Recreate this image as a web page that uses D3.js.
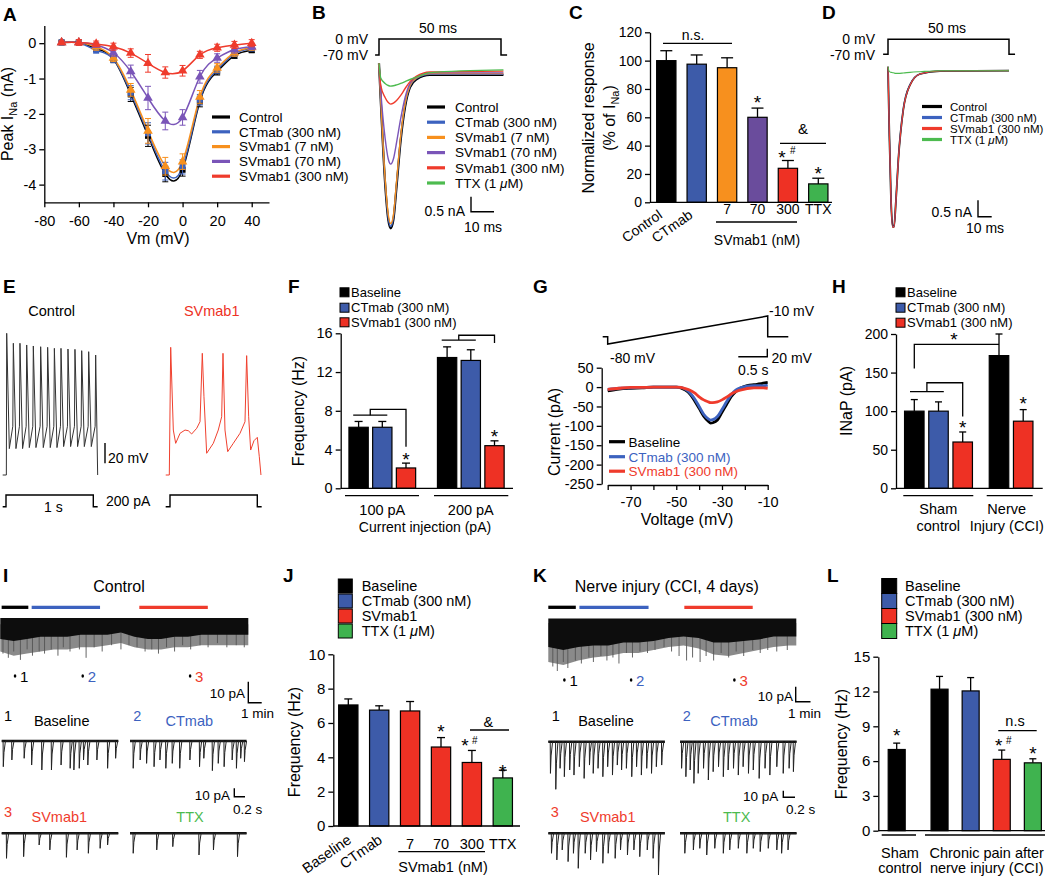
<!DOCTYPE html>
<html><head><meta charset="utf-8">
<script src="https://cdn.jsdelivr.net/npm/d3@7/dist/d3.min.js"></script>
<style>html,body{margin:0;padding:0;background:#fff}</style>
</head><body>
<svg id="chart" width="1050" height="877" xmlns="http://www.w3.org/2000/svg"></svg>
<script>
// ======================= DATA =======================
// Panel A: I-V curves
const A_vm = [-70,-60,-50,-40,-30,-20,-10,0,10,20,30,40];
const A_labels = ["Control","CTmab (300 nM)","SVmab1 (7 nM)","SVmab1 (70 nM)","SVmab1 (300 nM)"];
const A_control = [0.02,0.02,-0.15,-0.45,-1.45,-2.62,-3.7,-3.58,-1.65,-0.8,-0.35,-0.2];
const A_control_err = [0.04,0.04,0.08,0.1,0.2,0.3,0.22,0.18,0.15,0.1,0.08,0.06];
const A_ctmab = [0.02,0.02,-0.2,-0.45,-1.4,-2.55,-3.62,-3.5,-1.6,-0.75,-0.3,-0.15];
const A_ctmab_err = [0.04,0.04,0.08,0.1,0.2,0.3,0.25,0.2,0.15,0.1,0.08,0.06];
const A_sv7 = [0.02,0.02,-0.1,-0.42,-1.32,-2.48,-3.48,-3.35,-1.52,-0.7,-0.27,-0.12];
const A_sv7_err = [0.04,0.05,0.1,0.1,0.18,0.35,0.25,0.22,0.18,0.12,0.1,0.08];
const A_sv70 = [0.02,0.02,-0.05,-0.27,-0.8,-1.55,-2.2,-2.1,-0.95,-0.42,-0.18,-0.1];
const A_sv70_err = [0.04,0.04,0.06,0.1,0.18,0.33,0.25,0.22,0.18,0.12,0.1,0.08];
const A_sv300 = [0.02,0.02,-0.02,-0.1,-0.28,-0.57,-0.83,-0.78,-0.33,-0.13,-0.05,0.0];
const A_sv300_err = [0.04,0.08,0.08,0.1,0.12,0.25,0.16,0.15,0.1,0.1,0.1,0.1];
const A_xticks = [-80,-60,-40,-20,0,20,40];
const A_yticks = [0,-1,-2,-3,-4];

// Panel B: current traces (ms, nA)
const B_labels = ["Control","CTmab (300 nM)","SVmab1 (7 nM)","SVmab1 (70 nM)","SVmab1 (300 nM)","TTX (1 μM)"];
const B_time = [0,0.7,2.5,3.8,4.8,5.9,7.2,8.9,10.7,12.7,15.4,20.9,51];
const B_control = [0.29,-0.93,-3.71,-4.93,-5.21,-4.93,-3.82,-2.27,-1.16,-0.51,-0.24,-0.10,-0.10];
const B_ctmab = [0.29,-0.9,-3.65,-4.88,-5.15,-4.88,-3.75,-2.2,-1.1,-0.48,-0.21,-0.08,-0.08];
const B_sv7 = [0.29,-0.88,-3.55,-4.75,-5.05,-4.78,-3.65,-2.12,-1.05,-0.45,-0.19,-0.05,-0.05];
const B_sv70 = [0.29,-0.6,-2.2,-2.9,-3.07,-2.9,-2.35,-1.55,-0.85,-0.38,-0.16,-0.03,-0.03];
const B_sv300 = [0.29,-0.45,-0.85,-1.02,-1.07,-1.04,-0.95,-0.78,-0.55,-0.32,-0.14,0.0,0.03];
const B_ttx = [0.29,-0.2,-0.38,-0.45,-0.47,-0.46,-0.43,-0.38,-0.32,-0.25,-0.17,-0.02,0.07];
const B_protocol_t = [-1.6,0,0,50,50,52.5];
const B_protocol_mV = [-70,-70,0,0,-70,-70];

// Panel C
const C_cats = ["Control","CTmab","7","70","300","TTX"];
const C_vals = [100,97.5,95,60,24,13];
const C_err = [7,6.5,7,6.5,5.5,4];
const C_yticks = [0,20,40,60,80,100,120];

// Panel D
const D_labels = ["Control","CTmab (300 nM)","SVmab1 (300 nM)","TTX (1 μM)"];
const D_time = [0,0.55,1.24,1.93,2.48,3.3,4.27,6.3,9.1,13.2,21.5,50];
const D_control = [0.12,-1.9,-3.92,-4.73,-4.73,-3.92,-2.7,-1.19,-0.43,-0.1,-0.01,0];
const D_ctmab = [0.12,-1.88,-3.9,-4.72,-4.72,-3.9,-2.68,-1.17,-0.42,-0.1,-0.01,0];
const D_sv300 = [0.12,-1.89,-3.91,-4.74,-4.74,-3.93,-2.71,-1.2,-0.44,-0.1,-0.01,0];
const D_ttx = [0.12,-0.03,-0.05,-0.06,-0.07,-0.08,-0.08,-0.07,-0.05,-0.03,0,0];

// Panel E: action potentials (s, mV)
const E_ctrl_spike_t = [0.008,0.084,0.160,0.237,0.313,0.397,0.477,0.554,0.630,0.710,0.790,0.867,0.947,1.027];
const E_ctrl_peak = [79.6,69.8,69.8,68.1,67.1,66.4,65.8,64.8,64.8,64.1,63.8,62.5,61.5,58.2];
const E_ctrl_trough = [-34,-34,-34,-33,-33,-33,-33,-33,-32,-32,-32,-32,-32,-32];
const E_ctrl_thresh = -12;
const E_rest = -60;
const E_sv_t = [-0.049,-0.008,0.008,0.038,0.065,0.115,0.172,0.210,0.248,0.306,0.344,0.370,0.389,0.420,0.496,0.553,0.592,0.607,0.630,0.661,0.725,0.802,0.859,0.878,0.901,0.924,0.962,1.000,1.023,1.042];
const E_sv_mV = [-60,-60,65.8,-15.7,-28.8,-18.9,-15.7,-16.4,-19.6,-14,-7.5,59.9,17.1,-38.6,-28.8,-15.7,-2.6,59.9,-15.7,-37,-28.8,-18.9,-7.5,57.6,-2.6,-35.4,-26.2,-22.9,-42,-60];
const E_step_t = [-0.038,0,0,1.0,1.0,1.05];
const E_step_pA = [0,0,200,200,0,0];

// Panel F
const F_groups = ["100 pA","200 pA"];
const F_series = ["Baseline","CTmab (300 nM)","SVmab1 (300 nM)"];
const F_vals = [[6.3,6.3,2.1],[13.5,13.2,4.4]];
const F_err = [[0.6,0.6,0.5],[1.1,1.1,0.5]];
const F_yticks = [0,4,8,12,16];

// Panel G: ramp currents (mV, pA)
const G_labels = ["Baseline","CTmab (300 nM)","SVmab1 (300 nM)"];
const G_v = [-80,-75,-70,-65,-60,-55,-50,-48,-46,-44,-42,-40,-38,-36,-35,-34,-32,-30,-28,-26,-24,-22,-20,-18,-16,-14,-12,-10];
const G_base = [-10,-5,-3,-2,0,0,0,-2,-8,-18,-35,-55,-75,-88,-93,-92,-85,-65,-45,-25,-12,-3,2,5,6,8,10,12];
const G_ct = [-6,-3,-2,-1,0,0,0,-1,-6,-15,-30,-50,-70,-82,-85,-84,-76,-58,-38,-20,-8,-2,1,3,4,4,3,5];
const G_sv = [-6,-3,-1,-1,0,0,0,-1,-4,-8,-15,-25,-33,-38,-40,-40,-38,-33,-26,-18,-12,-8,-5,-3,-2,-2,-2,-3];
const G_yticks = [50,0,-50,-100,-150,-200,-250];
const G_xticks = [-80,-70,-60,-50,-40,-30,-20,-10];
const G_xlabels = [-70,-50,-30,-10];
const G_prot_t = [0,0.086,0.086,2.845,2.845,3.2];
const G_prot_mV = [-62,-62,-80,-10,-62,-62];

// Panel H
const H_series = ["Baseline","CTmab (300 nM)","SVmab1 (300 nM)"];
const H_groups = ["Sham","Nerve"];
const H_bar_group = [0,0,0,1,1];
const H_bar_series = [0,1,2,0,2];
const H_vals = [100,100,60,172,87];
const H_err = [15,12,13,28,15];
const H_yticks = [0,50,100,150,200];

// Panel I: spontaneous EPSC recordings (control)
const I_band_t = [0,1,2,3,4,5,6,7,8,9,10,11,12,13,14,15,16,17,18,18.5];
const I_band_low = [-9,-10,-9,-8,-8,-8,-7,-7,-7,-6,-8,-9,-9,-8,-8,-7,-7,-7,-7,-7];
const I_fringe_low = [-15,-17,-16,-15,-14,-14,-13,-13,-12,-11,-13,-14,-14,-13,-13,-12,-12,-12,-12,-12];
const I_spike_t = [0.2,0.6,1.0,1.5,2.0,2.4,2.9,3.3,3.8,4.3,4.7,5.2,5.9,6.4,7.0,7.6,8.3,9.0,9.6,10.2,10.8,11.3,11.8,12.4,13.0,13.6,14.2,14.9,15.5,16.2,16.9,17.6,18.2];
const I_spike_a = [-16,-18,-15,-19,-14,-17,-15,-16,-14,-17,-13,-15,-14,-18,-13,-15,-12,-14,-12,-13,-15,-14,-16,-13,-15,-12,-14,-12,-13,-11,-13,-12,-13];
const I_segments = [[0.1,2.09],[2.34,7.44],[10.37,15.48]];
const I_marks = [1.1,6.15,14.16];
const I_s1_t = [0.03,0.19,0.42,0.56,0.75,0.93,1.11,1.28,1.35,1.45,1.53,1.61,1.78,1.98,2.13];
const I_s1_a = [-30.6,-22.6,-20.6,-28.6,-34.5,-34.5,-28.6,-32.5,-34.5,-32.5,-22.6,-28.6,-22.6,-32.5,-20.6];
const I_s2_t = [0.06,0.19,0.31,0.45,0.56,0.67,0.79,0.93,1.12,1.30,1.38,1.54,1.65,1.76,1.91,1.99,2.07,2.14];
const I_s2_a = [-32.5,-22.6,-26.6,-30.6,-22.6,-32.5,-26.6,-32.5,-22.6,-30.6,-20.6,-35.3,-26.6,-30.6,-22.6,-32.5,-20.6,-24.6];
const I_s3_t = [0.09,0.41,0.70,0.90,1.21,1.41,1.62,1.84,1.98];
const I_s3_a = [-29.8,-27.8,-13.9,-19.8,-28.6,-19.8,-23.8,-17.9,-13.9];
const I_s4_t = [0.06,0.50,0.80,1.29,1.56,2.01];
const I_s4_a = [-23.8,-19.8,-15.9,-25.8,-19.8,-27.8];

// Panel J
const J_cats = ["Baseline","CTmab","7","70","300","TTX"];
const J_vals = [7.05,6.75,6.7,4.6,3.7,2.8];
const J_err = [0.35,0.25,0.55,0.55,0.7,0.45];
const J_legend = ["Baseline","CTmab (300 nM)","SVmab1","TTX (1 μM)"];
const J_yticks = [0,2,4,6,8,10];

// Panel K: spontaneous EPSC recordings (nerve injury)
const K_band_t = [0,1,2,3,4,5,6,7,8,9,10,11,12,13,14,15,16,16.5];
const K_band_low = [-18,-20,-18,-17,-17,-15,-15,-14,-12,-11,-12,-15,-15,-14,-13,-11,-11,-11];
const K_fringe_low = [-28,-30,-27,-25,-24,-22,-22,-20,-18,-17,-19,-23,-24,-22,-20,-18,-17,-17];
const K_spike_t = [0.3,0.6,1.0,1.3,1.8,2.2,2.7,3.0,3.5,3.9,4.3,4.7,5.2,5.6,6.1,6.6,7.1,7.7,8.2,8.7,9.2,9.6,10.1,10.5,11.0,11.5,12.0,12.5,13.0,13.6,14.1,14.6,15.2,15.9];
const K_spike_a = [-31,-34,-28,-32,-27,-29,-25,-28,-24,-27,-25,-29,-22,-25,-21,-22,-20,-18,-21,-24,-27,-25,-28,-24,-27,-22,-25,-21,-24,-20,-22,-20,-21,-20];
const K_segments = [[0,1.83],[2.07,6.67],[9.05,13.6]];
const K_marks = [1.07,5.51,12.38];
const K_s1_t = [0.04,0.14,0.22,0.30,0.40,0.48,0.58,0.67,0.77,0.84,0.93,1.02,1.11,1.20,1.29,1.37,1.46,1.56,1.65,1.74,1.84,1.93,2.02,2.12];
const K_s1_a = [-37.7,-56.7,-31.7,-41.7,-33.7,-39.7,-29.8,-43.7,-27.8,-37.7,-31.7,-41.7,-29.8,-39.7,-27.8,-33.7,-31.7,-41.7,-29.8,-39.7,-31.7,-37.7,-29.8,-27.8];
const K_s2_t = [0.03,0.11,0.19,0.26,0.34,0.44,0.53,0.62,0.72,0.81,0.90,1.00,1.09,1.18,1.28,1.37,1.48,1.59,1.68,1.81,1.93,2.04,2.12];
const K_s2_a = [-31.7,-41.7,-33.7,-49.6,-37.7,-31.7,-45.6,-35.7,-29.8,-41.7,-33.7,-31.7,-39.7,-29.8,-37.7,-33.7,-43.7,-31.7,-39.7,-29.8,-37.7,-31.7,-35.7];
const K_s3_t = [0.06,0.16,0.26,0.37,0.47,0.56,0.69,0.79,0.90,1.02,1.12,1.25,1.35,1.48,1.60,1.71,1.85,1.96,2.06];
const K_s3_a = [-23.8,-31.7,-19.8,-33.7,-23.8,-41.7,-23.8,-31.7,-21.8,-35.7,-23.8,-29.8,-19.8,-25.8,-19.8,-27.8,-19.8,-29.8,-49.6];
const K_s4_t = [0.09,0.25,0.37,0.50,0.65,0.81,0.93,1.09,1.25,1.37,1.50,1.65,1.81,1.90,2.02];
const K_s4_a = [-23.8,-19.8,-17.9,-25.8,-17.9,-23.8,-19.8,-17.9,-23.8,-17.9,-21.8,-17.9,-19.8,-23.8,-19.8];

// Panel L
const L_legend = ["Baseline","CTmab (300 nM)","SVmab1 (300 nM)","TTX (1 μM)"];
const L_bar_group = [0,1,1,1,1];
const L_vals = [7.0,12.2,12.05,6.15,5.85];
const L_err = [0.55,1.1,1.15,0.8,0.35];
const L_yticks = [0,3,6,9,12,15];

// ======================= DRAWING =======================
const svg = d3.select("#chart");
const FONT = '"Liberation Sans", Arial, Helvetica, sans-serif';
svg.attr("font-family", FONT);
const COL = {black:"#000000", blue:"#3d5ba9", orange:"#f7901e", purple:"#6a4c9c", red:"#ee3124", green:"#3fb34f"};
const LC = {black:"#000000", blue:"#3c62bf", orange:"#f7901e", purple:"#7a55b8", red:"#ef3b2c", green:"#4dbb4f"};

function T(x, y, s, o = {}) {
  const t = svg.append("text").attr("x", x).attr("y", y)
    .attr("font-size", o.size || 14).attr("fill", o.fill || "#000")
    .attr("text-anchor", o.anchor || "start");
  if (o.weight) t.attr("font-weight", o.weight);
  if (o.rot != null) t.attr("transform", `rotate(${o.rot},${x},${y})`);
  const parts = String(s).split("μ");
  parts.forEach((p, i) => {
    if (i > 0) t.append("tspan").attr("font-style", "italic").text("μ");
    if (p) t.append("tspan").text(p);
  });
  return t;
}
function L(x1, y1, x2, y2, o = {}) {
  return svg.append("line").attr("x1", x1).attr("y1", y1).attr("x2", x2).attr("y2", y2)
    .attr("stroke", o.stroke || "#000").attr("stroke-width", o.w || 1.3);
}
function P(pts, o = {}) {
  return svg.append("path").attr("d", d3.line()(pts)).attr("fill", "none")
    .attr("stroke", o.stroke || "#000").attr("stroke-width", o.w || 1.3);
}
function letter(x, y, s) { T(x, y, s, {size: 19, weight: "bold"}); }
function fmtAxis(g, fs) {
  g.attr("font-family", FONT).attr("font-size", fs || 14);
  g.selectAll(".domain").attr("stroke", "#000").attr("stroke-width", 1.3);
  g.selectAll(".tick line").attr("stroke", "#000").attr("stroke-width", 1.3);
  g.selectAll(".tick text").attr("fill", "#000");
}
function yAxis(x, scale, ticks, fs) {
  const g = svg.append("g").attr("transform", `translate(${x},0)`)
    .call(d3.axisLeft(scale).tickValues(ticks).tickFormat(d => String(d)).tickSize(5).tickSizeOuter(0).tickPadding(3));
  fmtAxis(g, fs);
  return g;
}
function yTitle(x, y, s, size) {
  return T(x, y, s, {size: size || 16, anchor: "middle", rot: -90});
}
function star(x, y) { T(x, y, "*", {size: 19, anchor: "middle"}); }
function hash(x, y) { T(x, y, "#", {size: 10, anchor: "middle"}); }
function bars(cxs, vals, errs, fills, yS, w, capW) {
  cxs.forEach((cx, i) => {
    const top = yS(vals[i]), base = yS(0), et = yS(vals[i] + errs[i]);
    L(cx, top, cx, et, {w: 1.3});
    L(cx - capW / 2, et, cx + capW / 2, et, {w: 1.3});
    svg.append("rect").attr("x", cx - w / 2).attr("y", top).attr("width", w).attr("height", base - top)
      .attr("fill", fills[i]).attr("stroke", "#000").attr("stroke-width", 1.2);
  });
}
function bracket(xa, xb, xr, yLow, yHigh, yEnd) {
  L(xa, yLow, xb, yLow);
  P([[(xa + xb) / 2, yLow], [(xa + xb) / 2, yHigh], [xr, yHigh], [xr, yEnd]]);
}
function sqLegend(x, ys, labels, fills, size, tx, fs) {
  labels.forEach((s, i) => {
    svg.append("rect").attr("x", x).attr("y", ys[i] - size / 2).attr("width", size).attr("height", size)
      .attr("fill", fills[i]).attr("stroke", "#000").attr("stroke-width", 1);
    T(tx, ys[i] + fs * 0.36, s, {size: fs});
  });
}
function lineLegend(x1, x2, tx, ys, labels, cols, fs, textCols) {
  labels.forEach((s, i) => {
    L(x1, ys[i], x2, ys[i], {stroke: cols[i], w: 3.2});
    T(tx, ys[i] + fs * 0.36, s, {size: fs, fill: textCols ? textCols[i] : "#000"});
  });
}

// ---------------- Panel A ----------------
letter(3, 21, "A");
{
  const x = d3.scaleLinear().domain([-80, 50]).range([44.3, 269]);
  const y = d3.scaleLinear().domain([-4.5, 0.5]).range([202.3, 25.5]);
  const gx = svg.append("g").attr("transform", "translate(0,202.3)")
    .call(d3.axisBottom(x).tickValues(A_xticks).tickFormat(d => String(d)).tickSize(5).tickSizeOuter(0).tickPadding(8));
  fmtAxis(gx, 14.5);
  yAxis(44.3, y, A_yticks, 14.5);
  const series = [A_control, A_ctmab, A_sv7, A_sv70, A_sv300];
  const errs = [A_control_err, A_ctmab_err, A_sv7_err, A_sv70_err, A_sv300_err];
  const cols = [LC.black, LC.blue, LC.orange, LC.purple, LC.red];
  const shapes = ["sq", "sq", "tri", "tri", "tri"];
  series.forEach((vals, k) => {
    svg.append("path").attr("d", d3.line().curve(d3.curveNatural).x((d, i) => x(A_vm[i])).y(d => y(d))(vals))
      .attr("fill", "none").attr("stroke", cols[k]).attr("stroke-width", 1.5);
  });
  series.forEach((vals, k) => {
    vals.forEach((v, i) => {
      const cx = x(A_vm[i]);
      L(cx, y(v - errs[k][i]), cx, y(v + errs[k][i]), {stroke: cols[k], w: 1});
      L(cx - 3, y(v - errs[k][i]), cx + 3, y(v - errs[k][i]), {stroke: cols[k], w: 1});
      L(cx - 3, y(v + errs[k][i]), cx + 3, y(v + errs[k][i]), {stroke: cols[k], w: 1});
    });
    vals.forEach((v, i) => {
      const cx = x(A_vm[i]), cy = y(v);
      if (shapes[k] === "sq") {
        svg.append("rect").attr("x", cx - 3).attr("y", cy - 3).attr("width", 6).attr("height", 6).attr("fill", cols[k]);
      } else {
        svg.append("path").attr("d", d3.symbol(d3.symbolTriangle, 40)()).attr("transform", `translate(${cx},${cy})`).attr("fill", cols[k]);
      }
    });
  });
  lineLegend(212, 230, 239, [117, 131.8, 146.6, 161.4, 176.2], A_labels, cols, 13.5);
  const tt = svg.append("text").attr("transform", "translate(13,114) rotate(-90)").attr("text-anchor", "middle").attr("font-size", 16);
  tt.append("tspan").text("Peak I");
  tt.append("tspan").attr("font-size", 11).attr("dy", 4).text("Na");
  tt.append("tspan").attr("dy", -4).text(" (nA)");
  T(158, 244, "Vm (mV)", {size: 16, anchor: "middle"});
}

// ---------------- Panel B ----------------
letter(312, 19, "B");
{
  const x = d3.scaleLinear().domain([0, 50]).range([379, 501]);
  const y = d3.scaleLinear().domain([-5.5, 0.5]).range([237, 57]);
  const py = d3.scaleLinear().domain([-70, 0]).range([55, 39]);
  P(B_protocol_t.map((t, i) => [x(t), py(B_protocol_mV[i])]), {w: 1.5});
  T(438, 33, "50 ms", {size: 14, anchor: "middle"});
  T(368, 43.5, "0 mV", {size: 14, anchor: "end"});
  T(368, 59.5, "-70 mV", {size: 14, anchor: "end"});
  const series = [B_control, B_ctmab, B_sv7, B_sv70, B_sv300, B_ttx];
  const cols = [LC.black, LC.blue, LC.orange, LC.purple, LC.red, LC.green];
  series.forEach((s, k) => {
    svg.append("path").attr("d", d3.line().curve(d3.curveMonotoneX).x((d, i) => x(B_time[i])).y(d => y(d))(s))
      .attr("fill", "none").attr("stroke", cols[k]).attr("stroke-width", k === 0 ? 2.2 : 1.4);
  });
  lineLegend(427, 445, 455, [107, 122.2, 137.4, 152.6, 167.8, 183], B_labels, cols, 13.5);
  P([[471, 196.7], [471, 211.7], [494, 211.7]], {w: 1.4});
  T(465, 215.5, "0.5 nA", {size: 14, anchor: "end"});
  T(483, 232, "10 ms", {size: 14, anchor: "middle"});
}

// ---------------- Panel C ----------------
letter(569, 19, "C");
{
  const y = d3.scaleLinear().domain([0, 120]).range([202.3, 32.3]);
  const x = d3.scalePoint().domain(C_cats).range([666.3, 818.3]);
  const fills = [COL.black, COL.blue, COL.orange, COL.purple, COL.red, COL.green];
  bars(C_cats.map(x), C_vals, C_err, fills, y, 19.3, 12);
  yAxis(650, y, C_yticks, 14);
  L(650, 202.3, 832, 202.3);
  T(594, 118, "Normalized response", {size: 16, anchor: "middle", rot: -90});
  const t2 = svg.append("text").attr("transform", "translate(615,118) rotate(-90)").attr("text-anchor", "middle").attr("font-size", 16);
  t2.append("tspan").text("(% of I");
  t2.append("tspan").attr("font-size", 11).attr("dy", 4).text("Na");
  t2.append("tspan").attr("dy", -4).text(")");
  ["Control", "CTmab"].forEach(c => {
    T(x(c) - 3, 217, c, {size: 14, anchor: "end", rot: -35});
  });
  ["7", "70", "300", "TTX"].forEach(c => T(x(c), 214, c, {size: 14, anchor: "middle"}));
  L(716, 222, 797, 222);
  T(757, 245, "SVmab1 (nM)", {size: 14, anchor: "middle"});
  L(663, 43.3, 732, 43.3);
  T(693, 40, "n.s.", {size: 14, anchor: "middle"});
  star(x("70"), 109);
  star(x("300") - 6, 164);
  hash(x("300") + 5, 154);
  star(x("TTX"), 180);
  L(780, 143.3, 826, 143.3);
  T(803, 133.5, "&", {size: 15, anchor: "middle"});
}

// ---------------- Panel D ----------------
letter(822, 19, "D");
{
  const x = d3.scaleLinear().domain([0, 50]).range([888, 1009]);
  const y = d3.scaleLinear().domain([-5, 0.5]).range([235.7, 54.2]);
  const py = d3.scaleLinear().domain([-70, 0]).range([54.3, 39.3]);
  P(B_protocol_t.map((t, i) => [x(t) - (i === 0 ? 1 : 0), py(B_protocol_mV[i])]), {w: 1.5});
  T(947, 33, "50 ms", {size: 14, anchor: "middle"});
  T(875, 43.5, "0 mV", {size: 14, anchor: "end"});
  T(875, 59.5, "-70 mV", {size: 14, anchor: "end"});
  const series = [D_control, D_ctmab, D_sv300, D_ttx];
  const cols = [LC.black, LC.blue, LC.red, LC.green];
  series.forEach((s, k) => {
    svg.append("path").attr("d", d3.line().curve(d3.curveMonotoneX).x((d, i) => x(D_time[i])).y(d => y(d))(s))
      .attr("fill", "none").attr("stroke", cols[k]).attr("stroke-width", k === 0 ? 1.8 : 1.1);
  });
  lineLegend(922, 942, 950, [106.5, 117.5, 128.5, 139.5], D_labels, cols, 11.5);
  P([[978, 200.2], [978, 216.7], [991.7, 216.7]], {w: 1.4});
  T(972, 217, "0.5 nA", {size: 14, anchor: "end"});
  T(985, 233, "10 ms", {size: 14, anchor: "middle"});
}

// ---------------- Panel E ----------------
letter(3, 293, "E");
{
  const xc = d3.scaleLinear().domain([0, 1]).range([6, 93.3]);
  const xs = d3.scaleLinear().domain([0, 1]).range([170, 257.3]);
  const y = d3.scaleLinear().domain([-60, 80]).range([475, 332.9]);
  const pts = [[-0.038, E_rest], [0.004, E_rest]];
  const n = E_ctrl_spike_t.length;
  E_ctrl_spike_t.forEach((t, i) => {
    if (i > 0) pts.push([t - 0.006, E_ctrl_thresh]);
    pts.push([t, E_ctrl_peak[i]]);
    if (i < n - 1) pts.push([t + 0.03, E_ctrl_trough[i]]);
  });
  pts.push([1.05, E_rest]);
  svg.append("path").attr("d", d3.line().x(d => xc(d[0])).y(d => y(d[1]))(pts))
    .attr("fill", "none").attr("stroke", "#333").attr("stroke-width", 1);
  svg.append("path").attr("d", d3.line().x((d, i) => xs(E_sv_t[i])).y(d => y(d))(E_sv_mV))
    .attr("fill", "none").attr("stroke", "#f0412f").attr("stroke-width", 1);
  T(51.7, 316, "Control", {size: 14.5, anchor: "middle"});
  T(211.7, 316, "SVmab1", {size: 14.5, anchor: "middle", fill: "#ee3124"});
  L(105, 443, 105, 463.3, {w: 1.4});
  T(108, 463, "20 mV", {size: 14});
  const sy = d3.scaleLinear().domain([0, 200]).range([506.7, 495]);
  P(E_step_t.map((t, i) => [xc(t), sy(E_step_pA[i])]), {w: 1.4});
  P(E_step_t.map((t, i) => [xs(t) + (i === 0 ? -1 : 0), sy(E_step_pA[i])]), {w: 1.4});
  T(53.3, 511.5, "1 s", {size: 14, anchor: "middle"});
  T(106, 506, "200 pA", {size: 14});
}

// ---------------- Panel F ----------------
letter(288, 293, "F");
{
  const y = d3.scaleLinear().domain([0, 16]).range([488.3, 333.3]);
  const gx = d3.scalePoint().domain(F_groups).range([382.3, 470.8]);
  const step = 23.7;
  const fills = [COL.black, COL.blue, COL.red];
  const centers = F_groups.map(g => [0, 1, 2].map(i => gx(g) + (i - 1) * step));
  F_groups.forEach((g, gi) => bars(centers[gi], F_vals[gi], F_err[gi], fills, y, 19.3, 8));
  yAxis(340.7, y, F_yticks, 14.5);
  L(340.7, 488.3, 513, 488.3);
  sqLegend(340, [292.3, 307.7, 322.3], F_series, fills, 9, 351, 13);
  L(345, 495.7, 419, 495.7);
  L(434, 495.7, 508.3, 495.7);
  F_groups.forEach(g => T(gx(g), 515, g, {size: 14.5, anchor: "middle"}));
  T(425, 532, "Current injection (pA)", {size: 14, anchor: "middle"});
  yTitle(304, 411, "Frequency (Hz)", 16);
  const c0 = centers[0], c1 = centers[1];
  bracket(c0[0] - 5.4, c0[1] + 5, c0[2], y(7.55), y(8.15), y(4.3));
  bracket(c1[0] - 5.4, c1[1] + 5, c1[2], y(15.3), y(15.8), y(15.0));
  star(c0[2], 466);
  star(c1[2], 442.5);
}

// ---------------- Panel G ----------------
letter(533, 293, "G");
{
  const tx = d3.scaleLinear().domain([0, 1]).range([602.7, 660.7]);
  const py = d3.scaleLinear().domain([-80, -10]).range([344, 316]);
  P(G_prot_t.map((t, i) => [tx(t), py(G_prot_mV[i])]), {w: 1.5});
  T(769, 316, "-10 mV", {size: 14});
  T(610, 363, "-80 mV", {size: 14});
  P([[738.3, 356.7], [767.3, 356.7], [767.3, 348.7]], {w: 1.4});
  T(771.5, 363, "20 mV", {size: 14});
  T(753.3, 375, "0.5 s", {size: 14, anchor: "middle"});
  const x = d3.scaleLinear().domain([-80, -10]).range([607.7, 767.7]);
  const y = d3.scaleLinear().domain([-250, 50]).range([484, 367.7]);
  yAxis(601.7, y, G_yticks, 14.5);
  const gx = svg.append("g").attr("transform", "translate(0,485)")
    .call(d3.axisBottom(x).tickValues(G_xticks).tickFormat(d => G_xlabels.includes(d) ? String(d) : "").tickSize(5).tickSizeOuter(0).tickPadding(7));
  fmtAxis(gx, 14.5);
  const cols = [LC.black, LC.blue, LC.red];
  [G_base, G_ct, G_sv].forEach((s, k) => {
    svg.append("path").attr("d", d3.line().curve(d3.curveMonotoneX).x((d, i) => x(G_v[i])).y(d => y(d))(s))
      .attr("fill", "none").attr("stroke", cols[k]).attr("stroke-width", 2.8);
  });
  lineLegend(609, 625, 628.5, [441.7, 456.7, 471.2], G_labels, cols, 13.5, cols);
  yTitle(560, 432, "Current (pA)", 16);
  T(687, 525, "Voltage (mV)", {size: 16, anchor: "middle"});
}

// ---------------- Panel H ----------------
letter(832, 293, "H");
{
  const y = d3.scaleLinear().domain([0, 200]).range([488.3, 334]);
  const gx = d3.scalePoint().domain(H_groups).range([938.5, 1011.1]);
  const step = 24.2;
  const fillsS = [COL.black, COL.blue, COL.red];
  const groupCounts = H_groups.map((g, gi) => H_bar_group.filter(v => v === gi).length);
  const idxInGroup = H_bar_group.map((g, i) => H_bar_group.slice(0, i).filter(v => v === g).length);
  const cxs = H_bar_group.map((g, i) => gx(H_groups[g]) + (idxInGroup[i] - (groupCounts[g] - 1) / 2) * step);
  bars(cxs, H_vals, H_err, H_bar_series.map(s => fillsS[s]), y, 19.5, 7);
  yAxis(896, y, H_yticks, 14);
  L(896, 488.3, 1042.7, 488.3);
  sqLegend(896, [292.3, 307.7, 322.7], H_series, fillsS, 9, 907, 13);
  L(903.3, 495.7, 973.3, 495.7);
  L(986.7, 495.7, 1032.7, 495.7);
  T(938.3, 514, "Sham", {size: 14.5, anchor: "middle"});
  T(938.3, 531, "control", {size: 14.5, anchor: "middle"});
  T(1006.7, 514, "Nerve", {size: 14.5, anchor: "middle"});
  T(1006.7, 531, "Injury (CCI)", {size: 14.5, anchor: "middle"});
  yTitle(852, 401, "INaP (pA)", 16);
  bracket(cxs[0] - 4.3, cxs[1] + 5.3, cxs[2], y(125.2), y(136.8), y(93));
  P([[cxs[0], y(155.4)], [cxs[0], y(186.5)], [cxs[3], y(186.5)]]);
  star(cxs[2], 433.5);
  star(cxs[4], 410);
  star(954, 346);
}

// ---------------- Panels I & K: recordings ----------------
function overview(x0, yTop, tMax, pxPerPA, bt, blow, bfringe, st, sa, segs, marks, markY) {
  const sx = d3.scaleLinear().domain([0, tMax]).range([x0, x0 + 248]);
  const sy = d3.scaleLinear().domain([-40, 0]).range([yTop + 40 * pxPerPA, yTop]);
  const segCols = [LC.black, LC.blue, LC.red];
  segs.forEach((s, i) => L(sx(s[0]), 607.3, sx(s[1]), 607.3, {stroke: segCols[i], w: 3.3}));
  svg.append("path").attr("d", d3.area().x((d, i) => sx(bt[i])).y0(sy(-2)).y1(d => sy(d))(bfringe)).attr("fill", "#8a8a8a");
  st.forEach((t, i) => L(sx(t), sy(-4), sx(t), sy(sa[i]), {stroke: "#555", w: 0.9}));
  svg.append("path").attr("d", d3.area().x((d, i) => sx(bt[i])).y0(sy(1)).y1(d => sy(d))(blow)).attr("fill", "#0d0d0d");
  const numCols = ["#000", LC.blue, LC.red];
  marks.forEach((t, i) => {
    svg.append("ellipse").attr("cx", sx(t)).attr("cy", markY).attr("rx", 1.3).attr("ry", 1.8).attr("fill", "#000");
    T(sx(t) + 5, markY + 5.5, String(i + 1), {size: 15, fill: numCols[i]});
  });
  return sx;
}
function sweep(x0, yBase, ts, as) {
  const dur = 2.18;
  const sx = d3.scaleLinear().domain([0, dur]).range([x0, x0 + 116.6]);
  const sy = d3.scaleLinear().domain([-60, 0]).range([yBase + 50.4, yBase]);
  L(x0, yBase, x0 + 116.6, yBase, {stroke: "#111", w: 2.6});
  const pts = [[0, 0]];
  ts.forEach((t, i) => { pts.push([t - 0.004, 0], [t, as[i]], [t + 0.012, as[i] * 0.45], [t + 0.04, 0]); });
  pts.push([dur, 0]);
  svg.append("path").attr("d", d3.line().x(d => sx(d[0])).y(d => sy(d[1]))(pts))
    .attr("fill", "none").attr("stroke", "#222").attr("stroke-width", 1);
}

letter(3, 582, "I");
{
  T(119, 592, "Control", {size: 16, anchor: "middle"});
  overview(0.3, 620, 18.5, 2.1, I_band_t, I_band_low, I_fringe_low, I_spike_t, I_spike_a, I_segments, I_marks, 676);
  P([[248.3, 681.7], [248.3, 702.7], [261.7, 702.7]], {w: 1.4});
  T(245, 698, "10 pA", {size: 13.5, anchor: "end"});
  T(241, 718, "1 min", {size: 13.5});
  T(4, 721, "1", {size: 14.5});
  T(61.7, 726, "Baseline", {size: 14.5, anchor: "middle"});
  T(133.3, 721, "2", {size: 14.5, fill: LC.blue});
  T(189.3, 726, "CTmab", {size: 14.5, anchor: "middle", fill: LC.blue});
  sweep(1.7, 741, I_s1_t, I_s1_a);
  sweep(130, 741, I_s2_t, I_s2_a);
  P([[234.3, 788.3], [234.3, 796.7], [245, 796.7]], {w: 1.4});
  T(230, 800, "10 pA", {size: 13.5, anchor: "end"});
  T(233, 814, "0.2 s", {size: 13.5});
  T(4, 816.5, "3", {size: 14.5, fill: LC.red});
  T(59.3, 821.5, "SVmab1", {size: 14.5, anchor: "middle", fill: LC.red});
  T(190, 821.5, "TTX", {size: 14.5, anchor: "middle", fill: LC.green});
  sweep(1.7, 833.3, I_s3_t, I_s3_a);
  sweep(130, 833.3, I_s4_t, I_s4_a);
}

letter(533, 582, "K");
{
  T(666.7, 592, "Nerve injury (CCI, 4 days)", {size: 16, anchor: "middle"});
  overview(548.3, 620, 16.5, 1.5, K_band_t, K_band_low, K_fringe_low, K_spike_t, K_spike_a, K_segments, K_marks, 680);
  P([[795.7, 686.7], [795.7, 701.7], [810.5, 701.7]], {w: 1.4});
  T(793, 700.5, "10 pA", {size: 13.5, anchor: "end"});
  T(788, 718, "1 min", {size: 13.5});
  T(551.7, 721, "1", {size: 14.5});
  T(606, 726, "Baseline", {size: 14.5, anchor: "middle"});
  T(682.7, 721, "2", {size: 14.5, fill: LC.blue});
  T(734, 726, "CTmab", {size: 14.5, anchor: "middle", fill: LC.blue});
  sweep(548.3, 741.7, K_s1_t, K_s1_a);
  sweep(680, 741.7, K_s2_t, K_s2_a);
  P([[783.3, 790.7], [783.3, 797.3], [795, 797.3]], {w: 1.4});
  T(778.3, 801, "10 pA", {size: 13.5, anchor: "end"});
  T(786, 814, "0.2 s", {size: 13.5});
  T(550.7, 816.5, "3", {size: 14.5, fill: LC.red});
  T(607.7, 821.5, "SVmab1", {size: 14.5, anchor: "middle", fill: LC.red});
  T(736.7, 821.5, "TTX", {size: 14.5, anchor: "middle", fill: LC.green});
  sweep(548.3, 833.3, K_s3_t, K_s3_a);
  sweep(680, 833.3, K_s4_t, K_s4_a);
}

// ---------------- Panel J ----------------
letter(283, 582, "J");
{
  const y = d3.scaleLinear().domain([0, 10]).range([826, 654.3]);
  const x = d3.scalePoint().domain(J_cats).range([348.3, 502.8]);
  const fills = [COL.black, COL.blue, COL.red, COL.red, COL.red, COL.green];
  bars(J_cats.map(x), J_vals, J_err, fills, y, 19.3, 8);
  yAxis(333.3, y, J_yticks, 15);
  L(333.3, 826, 520, 826);
  sqLegend(338.3, [586, 601, 616, 631], J_legend, [COL.black, COL.blue, COL.red, COL.green], 14, 361.7, 14.5);
  yTitle(300, 742, "Frequency (Hz)", 16);
  ["Baseline", "CTmab"].forEach(c => T(x(c) + 4, 842, c, {size: 14.5, anchor: "end", rot: -35}));
  ["7", "70", "300", "TTX"].forEach(c => T(x(c), 848.5, c, {size: 14.5, anchor: "middle"}));
  L(398.3, 851.7, 485, 851.7);
  T(443, 871.5, "SVmab1 (nM)", {size: 14.5, anchor: "middle"});
  star(x("70"), 738);
  star(x("300") - 7, 752);
  hash(x("300") + 3, 744);
  star(x("TTX"), 777.5);
  L(470, 730, 509, 730);
  T(488.3, 727, "&", {size: 14.5, anchor: "middle"});
}

// ---------------- Panel L ----------------
letter(827, 582, "L");
{
  const y = d3.scaleLinear().domain([0, 15]).range([830.7, 656.7]);
  const gx = d3.scalePoint().domain([0, 1]).range([896.7, 986.2]);
  const step = 31.1;
  const counts = [0, 1].map(g => L_bar_group.filter(v => v === g).length);
  const idx = L_bar_group.map((g, i) => L_bar_group.slice(0, i).filter(v => v === g).length);
  const cxs = L_bar_group.map((g, i) => gx(g) + (idx[i] - (counts[g] - 1) / 2) * step);
  const fills = [COL.black, COL.black, COL.blue, COL.red, COL.green];
  bars(cxs, L_vals, L_err, fills, y, 17, 7);
  yAxis(878.3, y, L_yticks, 15);
  L(878.3, 830.7, 1045, 830.7);
  sqLegend(881.7, [586, 601, 616, 631], L_legend, [COL.black, COL.blue, COL.red, COL.green], 15, 905, 14.5);
  yTitle(847, 744, "Frequency (Hz)", 16);
  L(881.7, 835, 916, 835);
  L(925, 835, 1045, 835);
  T(900, 858, "Sham", {size: 14.5, anchor: "middle"});
  T(900, 873, "control", {size: 14.5, anchor: "middle"});
  T(986.7, 858, "Chronic pain after", {size: 14.5, anchor: "middle"});
  T(986.7, 873, "nerve injury (CCI)", {size: 14.5, anchor: "middle"});
  star(cxs[0], 742);
  star(cxs[3] - 3, 752);
  hash(cxs[3] + 7, 744);
  star(cxs[4], 760);
  L(998.3, 730.7, 1036.7, 730.7);
  T(1015, 726, "n.s", {size: 14.5, anchor: "middle"});
}
</script>
</body></html>
